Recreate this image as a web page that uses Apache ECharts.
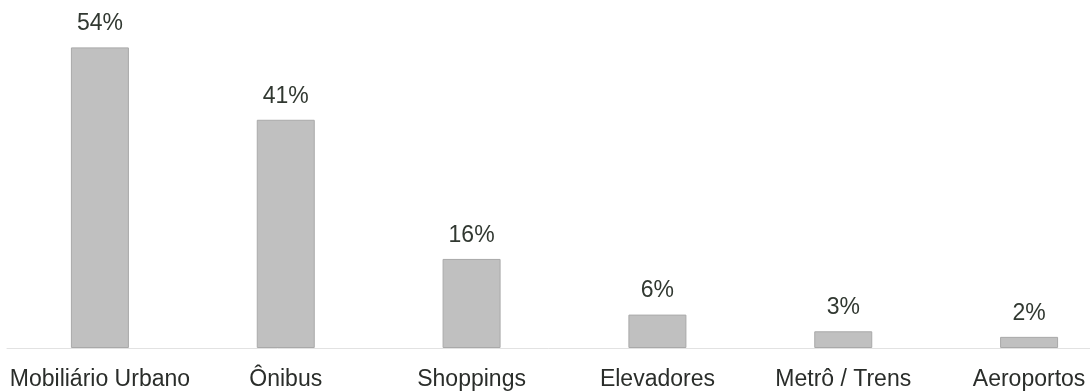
<!DOCTYPE html>
<html>
<head>
<meta charset="utf-8">
<script src="https://cdn.jsdelivr.net/npm/echarts@6/dist/echarts.min.js"></script>
<style>
  html, body { margin: 0; padding: 0; background: #fff; }
  #chartDom { width: 1090px; height: 391px; }
</style>
</head>
<body>
<div id="chartDom"></div>
<script>
// categories and values
const categories = ['Mobiliário Urbano', 'Ônibus', 'Shoppings', 'Elevadores', 'Metrô / Trens', 'Aeroportos'];
const values = [54, 41, 16, 6, 3, 2];

const chart = echarts.init(document.getElementById('chartDom'));

let option = {
    animation: false,
    grid: {
        left: 7,
        width: 1115,
        top: 14,
        bottom: 43,
        outerBoundsMode: 'none',
        containLabel: false
    },
    xAxis: {
        type: 'category',
        data: categories,
        axisTick: { show: false },
        axisLine: { lineStyle: { color: '#e2e2e2', width: 1 } },
        axisLabel: {
            interval: 0,
            hideOverlap: false,
            margin: 20,
            fontFamily: 'Liberation Sans',
            fontSize: 23,
            color: '#2a2d2a'
        }
    },
    yAxis: {
        type: 'value',
        min: 0,
        max: 60,
        show: false,
        splitLine: { show: false }
    },
    series: [
        {
            type: 'bar',
            data: values,
            barWidth: 58,
            itemStyle: {
                color: '#c0c0c0',
                borderColor: '#a9a9a9',
                borderWidth: 1
            },
            label: {
                show: true,
                position: 'top',
                distance: 12,
                formatter: '{c}%',
                fontFamily: 'Liberation Sans',
                fontSize: 23,
                color: '#313831'
            }
        }
    ]
};

chart.setOption(option);
</script>
</body>
</html>
